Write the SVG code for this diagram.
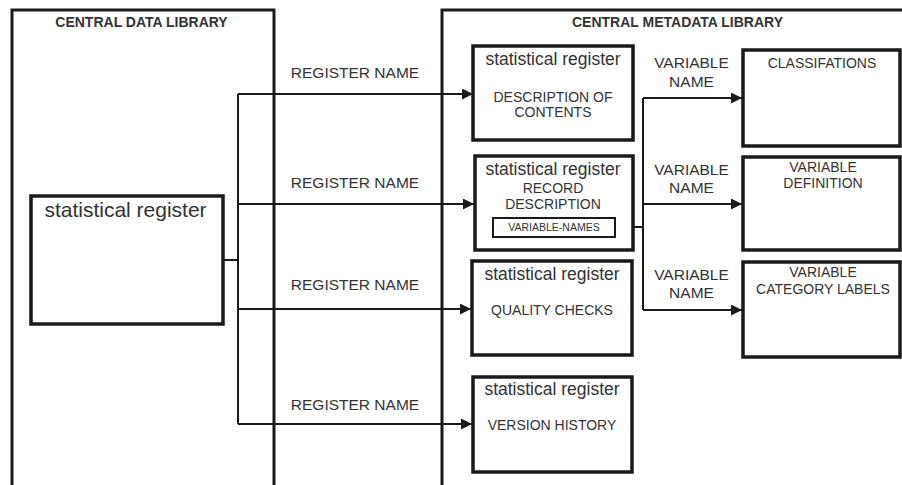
<svg xmlns="http://www.w3.org/2000/svg" width="902" height="485" viewBox="0 0 902 485">
<defs>
<style>
.lib{fill:none;stroke:#1a1a1a;stroke-width:3}
.box{fill:#fff;stroke:#1a1a1a;stroke-width:3.5}
.inner{fill:#fff;stroke:#1a1a1a;stroke-width:2}
.con{fill:none;stroke:#1a1a1a;stroke-width:2}
text{font-family:"Liberation Sans",Arial,sans-serif;fill:#333;text-anchor:middle}
.title{font-weight:bold;font-size:14px}
.sr{font-size:17.5px}
.lbl{font-size:15.5px}
.t{font-size:14px}
.small{font-size:10.5px}
</style>
<marker id="arr" viewBox="0 0 10 10" refX="10" refY="5" markerWidth="11" markerHeight="11" markerUnits="userSpaceOnUse" orient="auto">
<path d="M0,0 L10,5 L0,10 Z" fill="#1a1a1a"/>
</marker>
</defs>
<rect width="902" height="485" fill="#fff"/>

<g id="central-data-library">
<rect class="lib" x="12" y="10" width="262" height="500"/>
<text class="title" x="141.5" y="27">CENTRAL DATA LIBRARY</text>
</g>
<g id="central-metadata-library">
<rect class="lib" x="442" y="10" width="500" height="500"/>
<text class="title" x="677.5" y="27">CENTRAL METADATA LIBRARY</text>
</g>

<g id="connectors">
<polyline class="con" points="223,260 238,260"/>
<polyline class="con" points="238,94 238,424"/>
<line class="con" x1="238" y1="94" x2="473" y2="94" marker-end="url(#arr)"/>
<line class="con" x1="238" y1="204" x2="474" y2="204" marker-end="url(#arr)"/>
<line class="con" x1="238" y1="309" x2="471" y2="309" marker-end="url(#arr)"/>
<line class="con" x1="238" y1="424" x2="472" y2="424" marker-end="url(#arr)"/>
<polyline class="con" points="615,227 643,227"/>
<polyline class="con" points="643,98 643,310"/>
<line class="con" x1="643" y1="98" x2="742" y2="98" marker-end="url(#arr)"/>
<line class="con" x1="643" y1="204" x2="742" y2="204" marker-end="url(#arr)"/>
<line class="con" x1="643" y1="310" x2="742" y2="310" marker-end="url(#arr)"/>
<text class="lbl" x="355" y="78">REGISTER NAME</text>
<text class="lbl" x="355" y="188">REGISTER NAME</text>
<text class="lbl" x="355" y="290">REGISTER NAME</text>
<text class="lbl" x="355" y="410">REGISTER NAME</text>
<text class="lbl" x="691.5" y="68">VARIABLE</text>
<text class="lbl" x="691.5" y="87">NAME</text>
<text class="lbl" x="691.5" y="175">VARIABLE</text>
<text class="lbl" x="691.5" y="193">NAME</text>
<text class="lbl" x="691.5" y="280">VARIABLE</text>
<text class="lbl" x="691.5" y="298">NAME</text>
</g>

<g id="source-register">
<rect class="box" x="31" y="196" width="192" height="128"/>
<text x="125.5" y="217" style="font-size:21px">statistical register</text>
</g>

<g id="description-of-contents">
<rect class="box" x="473" y="46" width="160" height="94"/>
<text class="sr" x="553" y="65">statistical register</text>
<text class="t" x="553" y="102">DESCRIPTION OF</text>
<text class="t" x="553" y="117">CONTENTS</text>
</g>

<g id="record-description">
<rect class="box" x="475" y="156" width="158" height="94"/>
<text class="sr" x="553" y="175">statistical register</text>
<text class="t" x="553" y="193">RECORD</text>
<text class="t" x="553" y="209">DESCRIPTION</text>
<g id="variable-names">
<rect class="inner" x="493" y="218" width="122" height="19"/>
<text class="small" x="554" y="231">VARIABLE-NAMES</text>
</g>
</g>

<g id="quality-checks">
<rect class="box" x="472" y="261" width="160" height="94"/>
<text class="sr" x="552" y="280">statistical register</text>
<text class="t" x="552" y="315">QUALITY CHECKS</text>
</g>

<g id="version-history">
<rect class="box" x="473" y="377" width="159" height="95"/>
<text class="sr" x="552" y="395">statistical register</text>
<text class="t" x="552" y="430">VERSION HISTORY</text>
</g>

<g id="classifications">
<rect class="box" x="743" y="50" width="157" height="96"/>
<text class="t" x="822" y="68">CLASSIFATIONS</text>
</g>

<g id="variable-definition">
<rect class="box" x="743" y="157" width="157" height="93"/>
<text class="t" x="823" y="172">VARIABLE</text>
<text class="t" x="823" y="188">DEFINITION</text>
</g>

<g id="variable-category-labels">
<rect class="box" x="743" y="262" width="157" height="95"/>
<text class="t" x="823" y="277">VARIABLE</text>
<text class="t" x="823" y="294">CATEGORY LABELS</text>
</g>
</svg>
